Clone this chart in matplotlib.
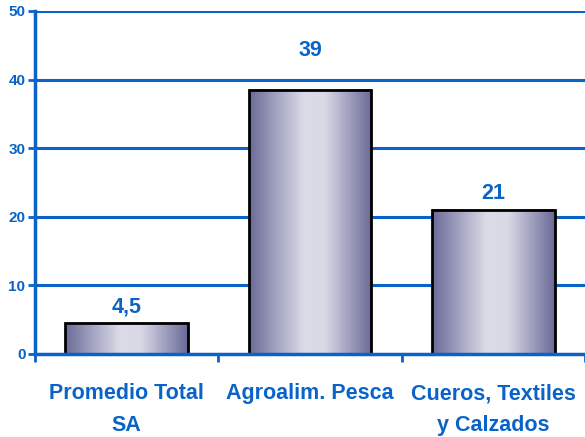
import matplotlib
matplotlib.use("Agg")
import matplotlib.pyplot as plt
import numpy as np
from matplotlib.colors import LinearSegmentedColormap

categories = ["Promedio Total\nSA", "Agroalim. Pesca", "Cueros, Textiles\ny Calzados"]
values = [4.5, 38.5, 21.0]
value_labels = ["4,5", "39", "21"]
yticks = [0, 10, 20, 30, 40, 50]

BLUE = "#0A64C8"
plt.rcParams['font.family'] = ['Liberation Sans', 'DejaVu Sans']

fig = plt.figure(figsize=(5.85, 4.37), dpi=100)
ax = fig.add_axes([0.06, 0.19, 0.94, 0.785])

x = np.arange(len(categories))
bars = ax.bar(x, values, width=0.67, facecolor="none", edgecolor="black", linewidth=2, zorder=3)

cmap = LinearSegmentedColormap.from_list("g", [
    (0.0, "#6A6A98"), (0.25, "#AAAAC6"), (0.45, "#DCDCE8"), (0.62, "#D8D8E6"),
    (0.8, "#A4A4C2"), (1.0, "#6A6A98")])
grad = np.linspace(0, 1, 256).reshape(1, -1)
for b in bars:
    x0, w, h = b.get_x(), b.get_width(), b.get_height()
    ax.imshow(grad, cmap=cmap, aspect="auto", extent=[x0, x0 + w, 0, h], zorder=2, interpolation="bilinear")

for b, lab in zip(bars, value_labels):
    h = b.get_height()
    ly = h + 2.4
    # move label above a gridline it would collide with
    nearest = round(ly / 10) * 10
    if abs(ly - nearest) < 2.0 and nearest > 0:
        ly = nearest + 4.3
    ax.text(b.get_x() + b.get_width() / 2, ly, lab, ha="center", va="center",
            color=BLUE, fontsize=15.5, fontweight="bold", zorder=4)

ax.set_xlim(-0.5, len(categories) - 0.5)
ax.set_ylim(0, 50)
ax.set_yticks(yticks)
ax.set_yticklabels([str(t) for t in yticks], color=BLUE, fontsize=11, fontweight="bold")
ax.set_xticks(np.arange(len(categories) + 1) - 0.5, minor=False)
ax.set_xticklabels([""] * (len(categories) + 1))
ax.set_xticks(x, minor=True)
ax.set_xticklabels(categories, minor=True, color=BLUE, fontsize=15.5, fontweight="bold", linespacing=1.65)
ax.tick_params(axis="x", which="minor", length=0, pad=21)
ax.tick_params(axis="x", which="major", length=6, width=2, color=BLUE, direction="out")
ax.tick_params(axis="y", length=5, width=2, color=BLUE, direction="out", pad=2)

for yv in yticks[1:]:
    ax.axhline(yv, color=BLUE, linewidth=2.2, zorder=1)

for s in ["top", "right"]:
    ax.spines[s].set_visible(False)
for s in ["left", "bottom"]:
    ax.spines[s].set_color(BLUE)
    ax.spines[s].set_linewidth(2.5)
ax.spines["bottom"].set_zorder(5)

fig.savefig("out.png", dpi=100)
